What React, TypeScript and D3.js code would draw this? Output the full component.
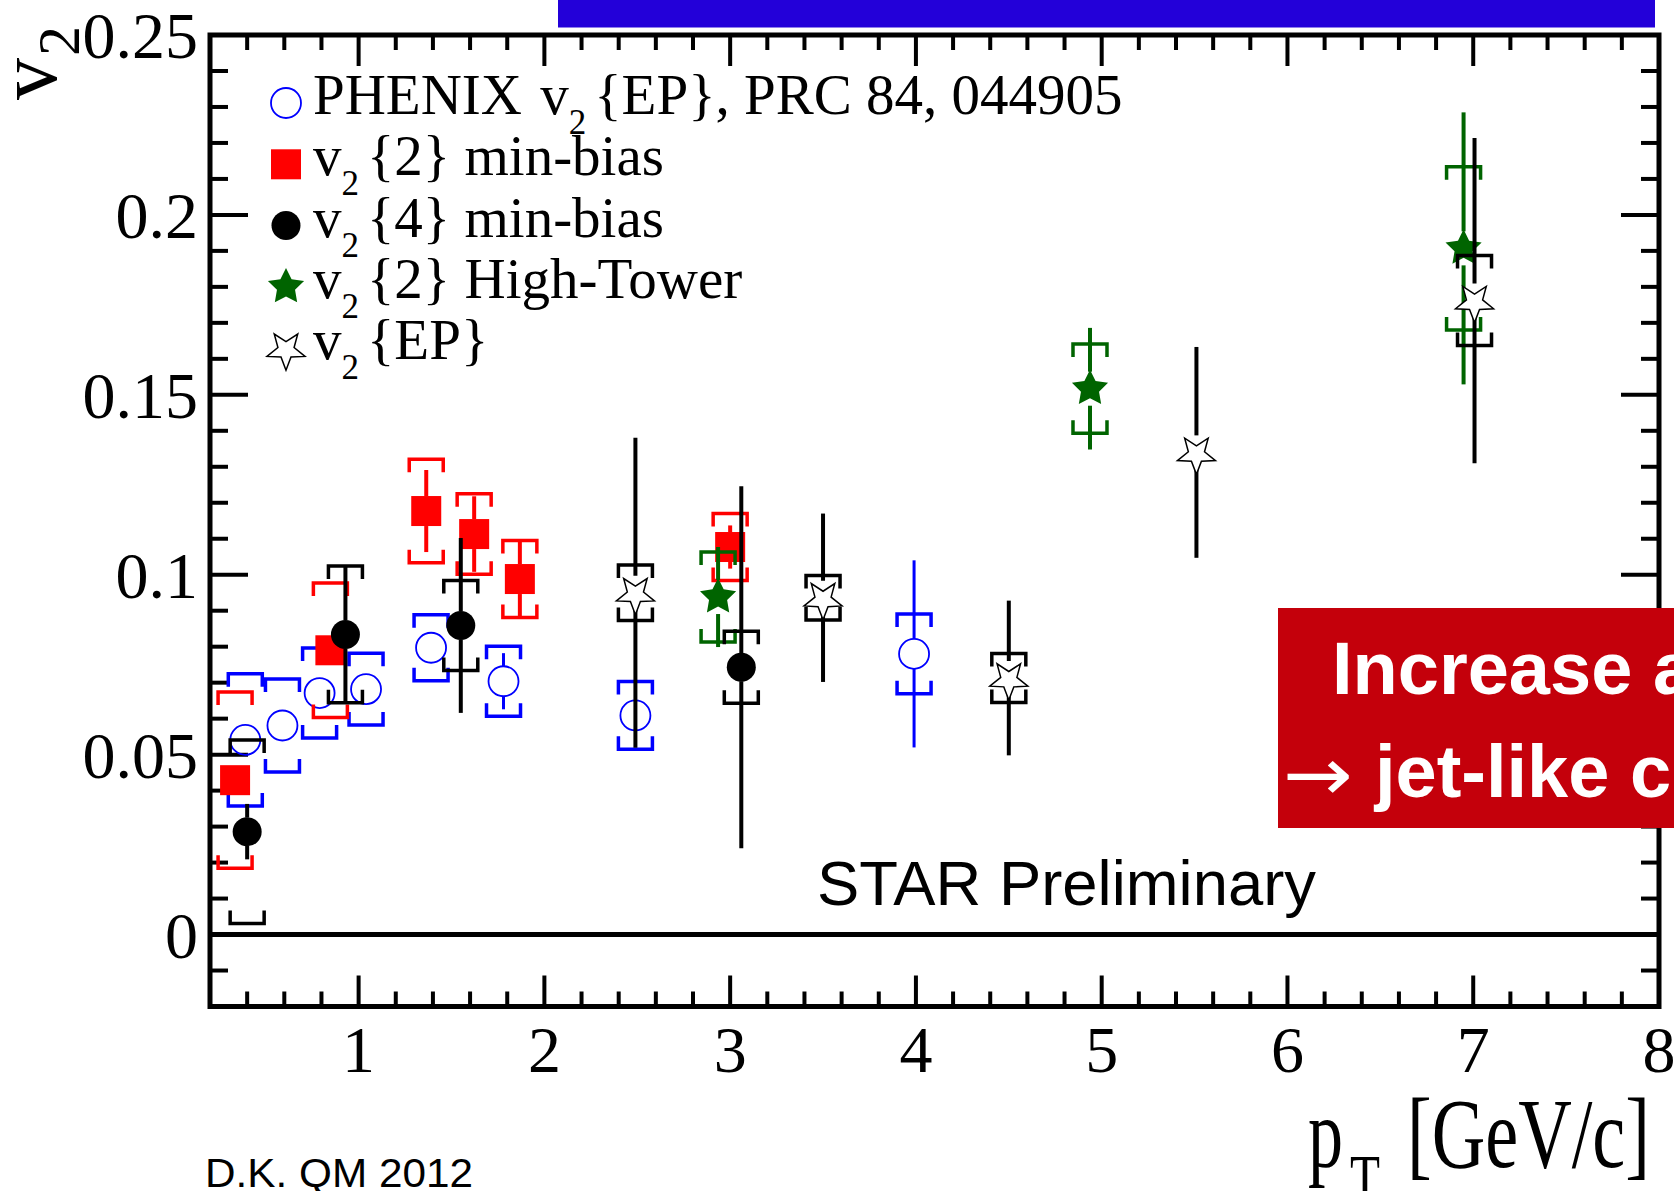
import React from 'react';
import * as d3 from 'd3';

const W = 1674;
const H = 1191;

// PHENIX v2{EP}, PRC 84, 044905
const phenixPt = [0.39, 0.59, 0.79, 1.04, 1.39, 1.78, 2.49, 3.99];
const phenixV2 = [0.0541, 0.0581, 0.0671, 0.0682, 0.0797, 0.0704, 0.0609, 0.078];
const phenixStat = [0.002, 0.002, 0.002, 0.002, 0.003, 0.0078, 0.004, 0.026];
const phenixSyst = [0.0184, 0.0129, 0.0125, 0.01, 0.0092, 0.0097, 0.0094, 0.0111];

// v2{2} min-bias
const v22Pt = [0.335, 0.848, 1.364, 1.622, 1.868, 3.0];
const v22V2 = [0.0429, 0.079, 0.1177, 0.1113, 0.0988, 0.1077];
const v22Stat = [0.002, 0.004, 0.0114, 0.0105, 0.011, 0.006];
const v22Syst = [0.0245, 0.0187, 0.0144, 0.0112, 0.0107, 0.0093];

// v2{4} min-bias
const v24Pt = [0.4, 0.929, 1.55, 3.06];
const v24V2 = [0.0286, 0.0834, 0.0859, 0.0743];
const v24Stat = [0.0077, 0.019, 0.0243, 0.0503];
const v24Syst = [0.0255, 0.019, 0.0125, 0.01];

// v2{2} High-Tower
const htPt = [2.935, 4.937, 6.948];
const htV2 = [0.0938, 0.1517, 0.1907];
const htStat = [0.0139, 0.0169, 0.0378];
const htSyst = [0.0125, 0.0124, 0.0227];

// v2{EP}
const epPt = [2.49, 3.5, 4.5, 5.51, 7.007];
const epV2 = [0.095, 0.0936, 0.0713, 0.134, 0.1762];
const epStat = [0.0431, 0.0234, 0.0215, 0.0293, 0.0452];
const epSyst = [0.0077, 0.0062, 0.0068, 0, 0.0125];

const xTickLabels = ['1', '2', '3', '4', '5', '6', '7', '8'];
const yTickLabels = ['0', '0.05', '0.1', '0.15', '0.2', '0.25'];

const legendPre = ['PHENIX ', '', '', '', ''];
const legendPost = ['{EP}, PRC 84, 044905', '{2} min-bias', '{4} min-bias', '{2} High-Tower', '{EP}'];

const SERIF = '"Liberation Serif", "Times New Roman", serif';
const SANS = '"Liberation Sans", Arial, sans-serif';

const xScale = d3.scaleLinear().domain([0.2, 8]).range([210, 1659]);
const yScale = d3.scaleLinear().domain([-0.02, 0.25]).range([1006.5, 35]);

type MarkerKind = 'openCircle' | 'square' | 'circle' | 'star' | 'openStar';

interface Series {
  pt: number[];
  v2: number[];
  stat: number[];
  syst: number[];
  color: string;
  marker: MarkerKind;
  statWidth: number;
}

const series: Series[] = [
  { pt: phenixPt, v2: phenixV2, stat: phenixStat, syst: phenixSyst, color: '#0000ff', marker: 'openCircle', statWidth: 3 },
  { pt: v22Pt, v2: v22V2, stat: v22Stat, syst: v22Syst, color: '#ff0000', marker: 'square', statWidth: 4 },
  { pt: htPt, v2: htV2, stat: htStat, syst: htSyst, color: '#006400', marker: 'star', statWidth: 4 },
  { pt: v24Pt, v2: v24V2, stat: v24Stat, syst: v24Syst, color: '#000000', marker: 'circle', statWidth: 4 },
  { pt: epPt, v2: epV2, stat: epStat, syst: epSyst, color: '#000000', marker: 'openStar', statWidth: 4 },
];

const legendMarkers: { kind: MarkerKind; color: string }[] = [
  { kind: 'openCircle', color: '#0000ff' },
  { kind: 'square', color: '#ff0000' },
  { kind: 'circle', color: '#000000' },
  { kind: 'star', color: '#006400' },
  { kind: 'openStar', color: '#000000' },
];

const markerHalf: Record<MarkerKind, number> = {
  openCircle: 15,
  square: 15,
  circle: 14,
  star: 17,
  openStar: 17,
};

// five-pointed star; rot = 0 points up, rot = PI points down
function starPath(cx: number, cy: number, R: number, r: number, rot = 0): string {
  const pts = d3.range(10).map((i) => {
    const rad = i % 2 === 0 ? R : r;
    const a = -Math.PI / 2 + rot + (i * Math.PI) / 5;
    return [cx + rad * Math.cos(a), cy + rad * Math.sin(a)] as [number, number];
  });
  return d3.line()(pts)! + 'Z';
}

function Marker({ kind, cx, cy, color }: { kind: MarkerKind; cx: number; cy: number; color: string }) {
  switch (kind) {
    case 'openCircle':
      return <circle cx={cx} cy={cy} r={15} fill="none" stroke={color} strokeWidth={1.8} />;
    case 'square':
      return <rect x={cx - 15} y={cy - 15} width={30} height={30} fill={color} />;
    case 'circle':
      return <circle cx={cx} cy={cy} r={14.5} fill={color} />;
    case 'star':
      return <path d={starPath(cx, cy, 19, 9.5)} fill={color} />;
    case 'openStar':
      return (
        <path
          d={starPath(cx, cy + 2, 20, 8.5, Math.PI)}
          fill="#ffffff"
          stroke={color}
          strokeWidth={1.5}
          strokeLinejoin="miter"
        />
      );
  }
}

function bracketPath(cx: number, top: number, bottom: number): string {
  const hw = 17;
  const leg = 13;
  return (
    `M${cx - hw},${top + leg}V${top}H${cx + hw}V${top + leg}` +
    `M${cx - hw},${bottom - leg}V${bottom}H${cx + hw}V${bottom - leg}`
  );
}

function SeriesLayer({ s }: { s: Series }) {
  const half = markerHalf[s.marker];
  return (
    <g>
      {s.pt.map((p, i) =>
        s.syst[i] > 0 ? (
          <path
            key={`sys${i}`}
            d={bracketPath(xScale(p), yScale(s.v2[i] + s.syst[i]), yScale(s.v2[i] - s.syst[i]))}
            fill="none"
            stroke={s.color}
            strokeWidth={3.5}
          />
        ) : null
      )}
      {s.pt.map((p, i) => {
        const cx = xScale(p);
        const cy = yScale(s.v2[i]);
        const hi = yScale(s.v2[i] + s.stat[i]);
        const lo = yScale(s.v2[i] - s.stat[i]);
        return (
          <g key={`st${i}`} stroke={s.color} strokeWidth={s.statWidth}>
            {hi < cy - half && <line x1={cx} x2={cx} y1={hi} y2={cy - half} />}
            {lo > cy + half && <line x1={cx} x2={cx} y1={cy + half} y2={lo} />}
          </g>
        );
      })}
      {s.pt.map((p, i) => (
        <Marker key={`m${i}`} kind={s.marker} cx={xScale(p)} cy={yScale(s.v2[i])} color={s.color} />
      ))}
    </g>
  );
}

export default function App() {
  const [x0, x1] = xScale.range();
  const [yb, yt] = yScale.range();

  const yMajor = d3.range(0, 6).map((i) => i * 0.05);
  const yMinor = d3.range(-1, 25).filter((i) => i % 5 !== 0).map((i) => i / 100);
  const xMajor = d3.range(1, 9);
  const xMinor = d3.range(2, 40).filter((i) => i % 5 !== 0).map((i) => i / 5);

  const legendY = (i: number) => 103 + i * 61.3;

  return (
    <svg
      width={W}
      height={H}
      viewBox={`0 0 ${W} ${H}`}
      style={{ position: 'absolute', left: 0, top: 0, display: 'block', background: '#ffffff' }}
    >
      <rect x={0} y={0} width={W} height={H} fill="#ffffff" />

      {/* slide title bar */}
      <rect x={558} y={0} width={1097} height={27.5} fill="#2300d9" />

      {/* ticks */}
      <g stroke="#000" strokeWidth={4}>
        {yMajor.map((v) => (
          <g key={`ym${v}`}>
            <line x1={x0} x2={x0 + 38} y1={yScale(v)} y2={yScale(v)} />
            <line x1={x1} x2={x1 - 38} y1={yScale(v)} y2={yScale(v)} />
          </g>
        ))}
        {yMinor.map((v) => (
          <g key={`yn${v}`}>
            <line x1={x0} x2={x0 + 18} y1={yScale(v)} y2={yScale(v)} />
            <line x1={x1} x2={x1 - 18} y1={yScale(v)} y2={yScale(v)} />
          </g>
        ))}
        {xMajor.map((v) => (
          <g key={`xm${v}`}>
            <line x1={xScale(v)} x2={xScale(v)} y1={yb} y2={yb - 31} />
            <line x1={xScale(v)} x2={xScale(v)} y1={yt} y2={yt + 31} />
          </g>
        ))}
        {xMinor.map((v) => (
          <g key={`xn${v}`}>
            <line x1={xScale(v)} x2={xScale(v)} y1={yb} y2={yb - 15} />
            <line x1={xScale(v)} x2={xScale(v)} y1={yt} y2={yt + 15} />
          </g>
        ))}
      </g>

      {/* frame and zero line */}
      <rect x={x0} y={yt} width={x1 - x0} height={yb - yt} fill="none" stroke="#000" strokeWidth={5} />
      <line x1={x0} x2={x1} y1={yScale(0)} y2={yScale(0)} stroke="#000" strokeWidth={5} />

      {/* tick labels */}
      <g fontFamily={SERIF} fontSize={66} fill="#000">
        {yMajor.map((v, i) => (
          <text key={`yl${i}`} x={198} y={yScale(v) + 23} textAnchor="end">
            {yTickLabels[i]}
          </text>
        ))}
        {xMajor.map((v, i) => (
          <text key={`xl${i}`} x={xScale(v)} y={1072} textAnchor="middle">
            {xTickLabels[i]}
          </text>
        ))}
      </g>

      {/* axis titles */}
      <text transform="translate(56,100) rotate(-90)" fontFamily={SERIF} fontSize={84} fill="#000">
        v
        <tspan dy={23} dx={2} fontSize={60}>
          2
        </tspan>
      </text>
      <g fontFamily={SERIF} fill="#000">
        <text x={1308} y={1167} fontSize={100} textLength={35} lengthAdjust="spacingAndGlyphs">
          p
        </text>
        <text x={1350} y={1203} fontSize={70} textLength={30} lengthAdjust="spacingAndGlyphs">
          T
        </text>
        <text x={1407} y={1167} fontSize={100} textLength={243} lengthAdjust="spacingAndGlyphs">
          [GeV/c]
        </text>
      </g>

      {/* data */}
      {series.map((s, i) => (
        <SeriesLayer key={i} s={s} />
      ))}

      {/* legend */}
      {legendMarkers.map((m, i) => (
        <g key={`lg${i}`}>
          <Marker kind={m.kind} cx={286} cy={legendY(i)} color={m.color} />
          <text x={313} y={legendY(i) + 11} fontFamily={SERIF} fontSize={57} fill="#000">
            {legendPre[i]}
            <tspan dx={legendPre[i] ? 4 : 0}>v</tspan>
            <tspan dy={20} fontSize={35}>
              2
            </tspan>
            <tspan dy={-20} dx={8}>
              {legendPost[i]}
            </tspan>
          </text>
        </g>
      ))}

      <text x={817} y={905} fontFamily={SANS} fontSize={63} fill="#000" textLength={499} lengthAdjust="spacingAndGlyphs">
        STAR Preliminary
      </text>

      {/* highlight box */}
      <rect x={1278} y={608} width={400} height={220} fill="#c4000b" />
      <text x={1332} y={694} fontFamily={SANS} fontWeight="bold" fontSize={74} fill="#ffffff">
        Increase a
      </text>
      <text
        x={1283}
        y={800}
        fontFamily='"DejaVu Sans", sans-serif'
        fontSize={74}
        fill="#ffffff"
        textLength={70}
        lengthAdjust="spacingAndGlyphs"
      >
        →
      </text>
      <text x={1375} y={797} fontFamily={SANS} fontWeight="bold" fontSize={74} fill="#ffffff">
        jet-like c
      </text>

      <text x={205} y={1187} fontFamily={SANS} fontSize={41} fill="#000" textLength={268} lengthAdjust="spacingAndGlyphs">
        D.K. QM 2012
      </text>
    </svg>
  );
}
